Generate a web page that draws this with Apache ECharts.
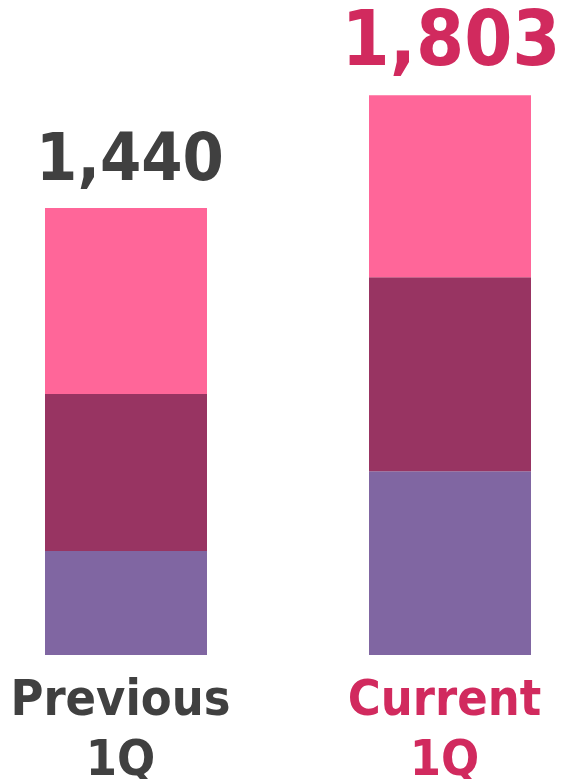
<!DOCTYPE html>
<html>
<head>
<meta charset="utf-8">
<script src="https://cdn.jsdelivr.net/npm/echarts@6/dist/echarts.min.js"></script>
<style>
html,body{margin:0;padding:0;background:#fff;}
#c{width:565px;height:779px;}
</style>
</head>
<body>
<div id="c"></div>
<script>
const categories = ['Previous\n1Q', 'Current\n1Q'];
const seriesBottom = [335, 592];
const seriesMiddle = [506, 625];
const seriesTop = [599, 586];
const totals = [1440, 1803];
const totalLabels = ['1,440', '1,803'];
const textColors = ['#404040', '#D12A5E'];
const totalFontSizes = [66, 77];

const FONT = '"DejaVu Sans Condensed", "DejaVu Sans", sans-serif';
const chart = echarts.init(document.getElementById('c'), null, {renderer: 'canvas'});
chart.setOption({
  animation: false,
  grid: {left: -36, right: -47, top: 34.2, bottom: 124, containLabel: false, outerBoundsMode: 'none'},
  xAxis: {
    type: 'category',
    data: categories,
    axisLine: {show: false},
    axisTick: {show: false},
    axisLabel: {
      interval: 0,
      hideOverlap: false,
      margin: 17,
      padding: [0, 11, 0, 0],
      fontFamily: FONT,
      fontWeight: 'bold',
      fontSize: 50,
      lineHeight: 60,
      color: function (v, i) { return textColors[i]; }
    }
  },
  yAxis: {type: 'value', min: 0, max: 2000, show: false, splitLine: {show: false}},
  series: [
    {type: 'bar', stack: 's', barWidth: 162, data: seriesBottom, itemStyle: {color: '#8066A2'}},
    {type: 'bar', stack: 's', barWidth: 162, data: seriesMiddle, itemStyle: {color: '#983462'}},
    {type: 'bar', stack: 's', barWidth: 162, itemStyle: {color: '#FF6699'},
      data: seriesTop.map(function (v, i) {
        return {value: v, label: {color: textColors[i], fontSize: totalFontSizes[i], offset: [i === 0 ? 4 : 1, 0]}};
      }),
      label: {
        show: true,
        position: 'top',
        distance: 12,
        fontFamily: FONT,
        fontWeight: 'bold',
        fontSize: 66,
        formatter: function (p) { return totalLabels[p.dataIndex]; }
      }
    }
  ]
});
</script>
</body>
</html>
